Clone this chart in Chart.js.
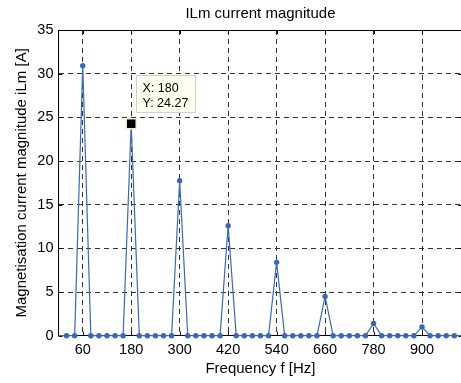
<!DOCTYPE html>
<html><head><meta charset="utf-8">
<script src="https://cdn.jsdelivr.net/npm/chart.js@4.4.0/dist/chart.umd.min.js"></script>
<style>
html,body{margin:0;padding:0;background:#fff;overflow:hidden;width:461px;height:383px;}
#wrap{position:absolute;left:0;top:0;width:470px;height:383px;}
</style></head><body>
<div id="wrap"><canvas id="c" width="470" height="383"></canvas></div>
<script>
const chartTitle = 'ILm current magnitude';
const xAxisTitle = 'Frequency f [Hz]';
const yAxisTitle = 'Magnetisation current magnitude iLm [A]';
const frequencies = [0,20,40,60,80,100,120,140,160,180,200,220,240,260,280,300,320,340,360,380,400,420,440,460,480,500,520,540,560,580,600,620,640,660,680,700,720,740,760,780,800,820,840,860,880,900,920,940,960,980,1000];
const magnitudes = [0,0,0,30.9,0,0,0,0,0,24.27,0,0,0,0,0,17.75,0,0,0,0,0,12.6,0,0,0,0,0,8.4,0,0,0,0,0,4.5,0,0,0,0,0,1.4,0,0,0,0,0,1.0,0,0,0,0,0];
const xTickValues = [60,180,300,420,540,660,780,900];
const yTickValues = [0,5,10,15,20,25,30,35];
const dataTipX = [180];
const dataTipY = [24.27];

const FONT = 'Liberation Sans, Arial, Helvetica, sans-serif';
const BLUE = '#3a68b6';

const matlabBox = {
  id: 'matlabBox',
  beforeDatasetsDraw(chart) {
    const {ctx, chartArea: a, scales} = chart;
    ctx.save();
    ctx.strokeStyle = '#000';
    ctx.lineWidth = 1;
    ctx.beginPath();
    const t = Math.round(a.top) + 0.5, r = Math.round(a.right) + 0.5;
    ctx.moveTo(a.left, t); ctx.lineTo(a.right, t);
    ctx.moveTo(r, a.top); ctx.lineTo(r, a.bottom);
    xTickValues.forEach(v => {
      const x = Math.round(scales.x.getPixelForValue(v)) + 0.5;
      ctx.moveTo(x, a.bottom); ctx.lineTo(x, a.bottom - 4);
      ctx.moveTo(x, a.top); ctx.lineTo(x, a.top + 4);
    });
    yTickValues.forEach(v => {
      const y = Math.round(scales.y.getPixelForValue(v)) + 0.5;
      ctx.moveTo(a.left, y); ctx.lineTo(a.left + 4, y);
      ctx.moveTo(a.right, y); ctx.lineTo(a.right - 4, y);
    });
    ctx.stroke();
    ctx.restore();
  },
  afterDraw(chart) {
    const {ctx, scales} = chart;
    dataTipX.forEach((xv, i) => {
      const yv = dataTipY[i];
      const px = scales.x.getPixelForValue(xv);
      const py = scales.y.getPixelForValue(yv);
      ctx.save();
      const bx = Math.round(px + 5) + 0.5, by = Math.round(py - 49) + 0.5;
      ctx.fillStyle = '#fffff0';
      ctx.strokeStyle = '#d0d0c8';
      ctx.lineWidth = 1;
      ctx.fillRect(bx, by, 59, 37);
      ctx.strokeRect(bx, by, 59, 37);
      ctx.fillStyle = '#000';
      ctx.font = '12.5px ' + FONT;
      ctx.textBaseline = 'middle';
      ctx.textAlign = 'left';
      ctx.fillText('X: ' + xv, bx + 6, by + 13);
      ctx.fillText('Y: ' + yv.toFixed(2), bx + 6, by + 28);
      ctx.fillStyle = '#000';
      ctx.strokeStyle = '#f4f0c0';
      ctx.lineWidth = 1.5;
      ctx.fillRect(px - 5, py - 5, 10, 10);
      ctx.strokeRect(px - 5, py - 5, 10, 10);
      ctx.restore();
    });
  }
};

const points = frequencies.map((f, i) => ({x: f, y: magnitudes[i]}));

new Chart(document.getElementById('c'), {
  type: 'line',
  data: {
    datasets: [{
      data: points,
      borderColor: BLUE,
      backgroundColor: BLUE,
      borderWidth: 1.2,
      pointRadius: ctx => (ctx.dataIndex === 0 || ctx.dataIndex === frequencies.length - 1) ? 0 : 2.7,
      pointBackgroundColor: BLUE,
      pointBorderWidth: 0,
      tension: 0,
      clip: false
    }]
  },
  options: {
    responsive: false,
    animation: false,
    devicePixelRatio: 1,
    layout: {padding: {top: 0, right: 7.6, left: 0, bottom: 0}},
    plugins: {
      legend: {display: false},
      tooltip: {enabled: false},
      title: {
        display: true, text: chartTitle, color: '#000', fullSize: false,
        font: {family: FONT, size: 15, weight: 'normal'},
        padding: {top: 5, bottom: 7}
      }
    },
    scales: {
      x: {
        type: 'linear', min: 0, max: 1000,
        afterBuildTicks: s => { s.ticks = xTickValues.map(v => ({value: v})); },
        afterFit: s => { s.height = 47.3; },
        ticks: {autoSkip: false, maxRotation: 0, color: '#000', padding: 6,
                font: {family: FONT, size: 14.5}, callback: v => String(v)},
        grid: {drawTicks: false, color: '#333', lineWidth: 1},
        border: {display: true, color: '#000', width: 1, dash: [5, 4]},
        title: {display: true, text: xAxisTitle, color: '#000',
                font: {family: FONT, size: 15}, padding: {top: 0, bottom: 5}}
      },
      y: {
        min: 0, max: 35,
        afterBuildTicks: s => { s.ticks = yTickValues.map(v => ({value: v})); },
        afterFit: s => { s.width = 58.5; },
        ticks: {color: '#000', padding: 5, font: {family: FONT, size: 14.5}},
        grid: {drawTicks: false, lineWidth: 1,
               color: c => (c.tick && (c.tick.value === 0 || c.tick.value === 35)) ? 'rgba(0,0,0,0)' : '#333'},
        border: {display: true, color: '#000', width: 1, dash: [5, 4]},
        title: {display: true, text: yAxisTitle, color: '#000',
                font: {family: FONT, size: 15}, padding: {top: 13, bottom: 0}}
      }
    }
  },
  plugins: [matlabBox]
});
</script>
</body></html>
